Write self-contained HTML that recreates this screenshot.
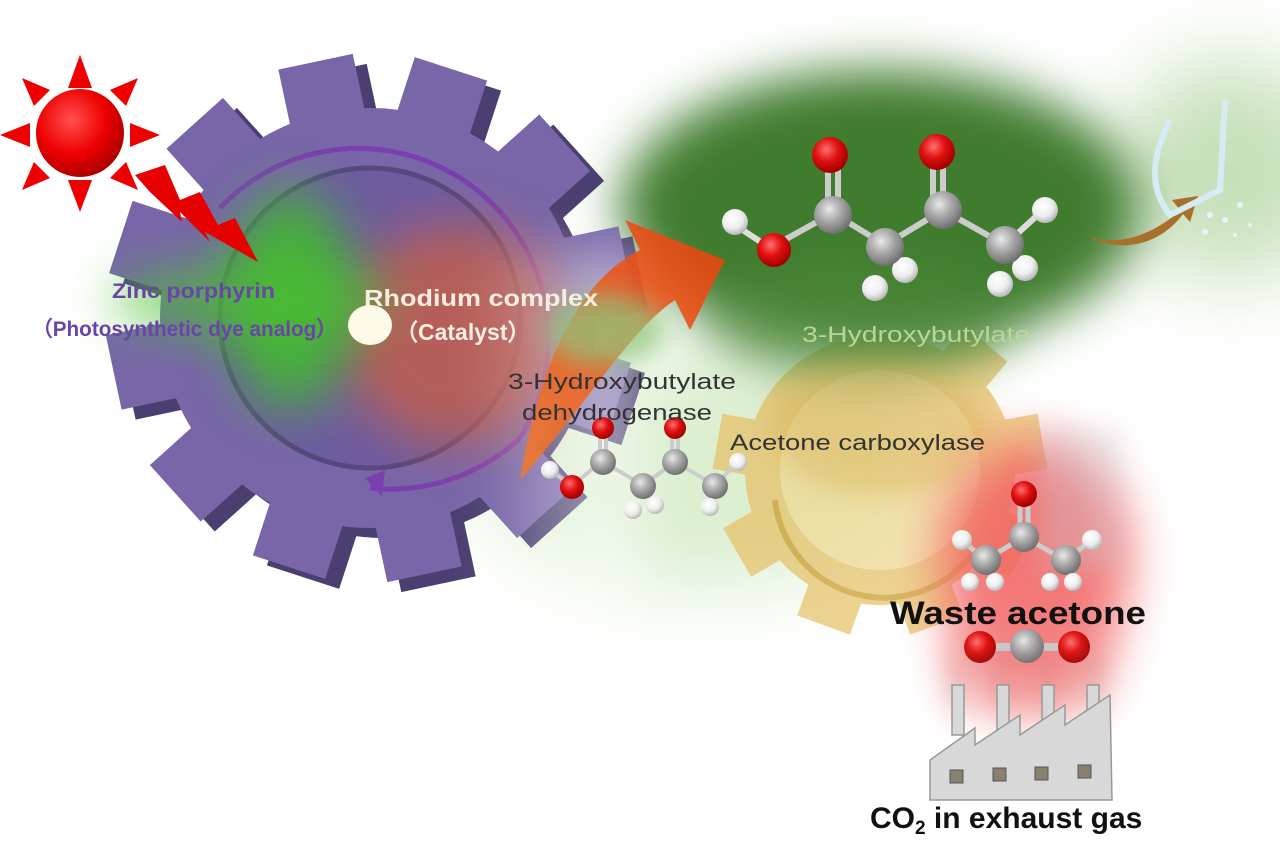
<!DOCTYPE html>
<html><head><meta charset="utf-8"><style>
html,body{margin:0;padding:0;background:#fff;width:1280px;height:853px;overflow:hidden}
svg{display:block}
text{font-family:"Liberation Sans",sans-serif}
</style></head><body>
<svg width="1280" height="853" viewBox="0 0 1280 853" xmlns="http://www.w3.org/2000/svg">
<defs>
<filter id="b40" x="-50%" y="-50%" width="200%" height="200%"><feGaussianBlur stdDeviation="40"/></filter>
<filter id="b25" x="-50%" y="-50%" width="200%" height="200%"><feGaussianBlur stdDeviation="25"/></filter>
<filter id="b12" x="-50%" y="-50%" width="200%" height="200%"><feGaussianBlur stdDeviation="12"/></filter>
<radialGradient id="gO" cx="40%" cy="35%" r="65%"><stop offset="0" stop-color="#ff7070"/><stop offset=".5" stop-color="#e01010"/><stop offset="1" stop-color="#a00000"/></radialGradient>
<radialGradient id="gC" cx="40%" cy="35%" r="65%"><stop offset="0" stop-color="#e8e8e8"/><stop offset=".5" stop-color="#a8a8a8"/><stop offset="1" stop-color="#707070"/></radialGradient>
<radialGradient id="gH" cx="40%" cy="35%" r="65%"><stop offset="0" stop-color="#fff"/><stop offset=".6" stop-color="#eee"/><stop offset="1" stop-color="#b8b8b8"/></radialGradient>
<radialGradient id="sun" cx="40%" cy="35%" r="65%"><stop offset="0" stop-color="#ff5050"/><stop offset=".6" stop-color="#ee0000"/><stop offset="1" stop-color="#b00000"/></radialGradient>
<linearGradient id="orng" x1="0" y1="1" x2="1" y2="0"><stop offset="0" stop-color="#f07a30"/><stop offset="1" stop-color="#e84010"/></linearGradient>
<linearGradient id="fade" x1="0" y1="0" x2="1" y2="0"><stop offset="0" stop-color="#fff" stop-opacity="0"/><stop offset="1" stop-color="#fff" stop-opacity="1"/></linearGradient>
</defs>

<ellipse cx="1230" cy="170" rx="110" ry="110" fill="#b9d9a8" filter="url(#b40)" opacity=".8"/>
<ellipse cx="700" cy="470" rx="220" ry="120" fill="#dcefd0" filter="url(#b40)"/>
<g opacity=".7">
<g transform="translate(880,470)" fill="#e6c064">
<circle r="135"/>
<rect x="-28" y="-165" width="56" height="45" transform="rotate(40)"/>
<rect x="-28" y="-165" width="56" height="45" transform="rotate(80)"/>
<rect x="-28" y="-165" width="56" height="45" transform="rotate(120)"/>
<rect x="-28" y="-165" width="56" height="45" transform="rotate(160)"/>
<rect x="-28" y="-165" width="56" height="45" transform="rotate(200)"/>
<rect x="-28" y="-165" width="56" height="45" transform="rotate(240)"/>
<rect x="-28" y="-165" width="56" height="45" transform="rotate(280)"/>
<circle r="100" fill="#f0d890"/>
<path d="M-105,30 A110,110 0 0 0 95,80" fill="none" stroke="#c89820" stroke-width="6"/>
</g>
</g>
<ellipse cx="880" cy="210" rx="260" ry="140" fill="#3f7b2f" filter="url(#b25)"/>
<ellipse cx="860" cy="320" rx="150" ry="60" fill="#4f8a3a" filter="url(#b25)" opacity=".6"/>
<ellipse cx="880" cy="430" rx="110" ry="65" fill="#d9b055" opacity=".45" filter="url(#b12)"/>

<ellipse cx="1035" cy="560" rx="95" ry="120" fill="#f26060" filter="url(#b25)" opacity=".85"/>
<ellipse cx="1030" cy="660" rx="80" ry="60" fill="#f48080" filter="url(#b25)" opacity=".7"/>
<rect x="1040" y="430" width="80" height="140" fill="#c8c8d0" opacity=".35" filter="url(#b12)"/>

<g transform="translate(370,318)">
<g fill="#4a3f70" transform="translate(14,10)">
<circle r="210"/>
<rect x="-38" y="-262" width="76" height="70" transform="rotate(-12)"/>
<rect x="-38" y="-262" width="76" height="70" transform="rotate(18)"/>
<rect x="-38" y="-262" width="76" height="70" transform="rotate(48)"/>
<rect x="-38" y="-262" width="76" height="70" transform="rotate(78)"/>
<rect x="-38" y="-262" width="76" height="70" transform="rotate(108)"/>
<rect x="-38" y="-262" width="76" height="70" transform="rotate(138)"/>
<rect x="-38" y="-262" width="76" height="70" transform="rotate(168)"/>
<rect x="-38" y="-262" width="76" height="70" transform="rotate(198)"/>
<rect x="-38" y="-262" width="76" height="70" transform="rotate(228)"/>
<rect x="-38" y="-262" width="76" height="70" transform="rotate(258)"/>
<rect x="-38" y="-262" width="76" height="70" transform="rotate(288)"/>
<rect x="-38" y="-262" width="76" height="70" transform="rotate(318)"/>
</g>
<g fill="#7866a8">
<circle r="210"/>
<rect x="-38" y="-262" width="76" height="70" transform="rotate(-12)"/>
<rect x="-38" y="-262" width="76" height="70" transform="rotate(18)"/>
<rect x="-38" y="-262" width="76" height="70" transform="rotate(48)"/>
<rect x="-38" y="-262" width="76" height="70" transform="rotate(78)"/>
<rect x="-38" y="-262" width="76" height="70" transform="rotate(108)"/>
<rect x="-38" y="-262" width="76" height="70" transform="rotate(138)"/>
<rect x="-38" y="-262" width="76" height="70" transform="rotate(168)"/>
<rect x="-38" y="-262" width="76" height="70" transform="rotate(198)"/>
<rect x="-38" y="-262" width="76" height="70" transform="rotate(228)"/>
<rect x="-38" y="-262" width="76" height="70" transform="rotate(258)"/>
<rect x="-38" y="-262" width="76" height="70" transform="rotate(288)"/>
<rect x="-38" y="-262" width="76" height="70" transform="rotate(318)"/>
</g>
<circle r="150" fill="#6e5ca0" stroke="#55487d" stroke-width="5"/>
<path d="M-150,-110 A190,190 0 0 1 150,120" fill="none" stroke="#7a3fb0" stroke-width="5"/>
<path d="M150,120 A190,190 0 0 1 0,170" fill="none" stroke="#7a3fb0" stroke-width="5"/>
<polygon points="-5,160 15,152 12,178" fill="#7a3fb0"/>
</g>
<ellipse cx="455" cy="335" rx="115" ry="110" fill="#c8604a" filter="url(#b25)" opacity=".8"/>
<ellipse cx="290" cy="300" rx="65" ry="110" fill="#3fbe2a" filter="url(#b25)" opacity=".85"/>
<ellipse cx="250" cy="300" rx="140" ry="35" fill="#4cc030" filter="url(#b25)" opacity=".7"/>
<rect x="480" y="250" width="160" height="360" fill="url(#fade)" opacity=".6" filter="url(#b25)"/>
<ellipse cx="370" cy="325" rx="22" ry="20" fill="#fdfbe8"/>

<path d="M520,480 C540,360 580,280 640,250 L625,220 L725,260 L690,330 L675,300 C630,330 590,400 520,480 Z" fill="url(#orng)" opacity=".9"/>
<ellipse cx="605" cy="330" rx="60" ry="35" fill="#8fc47a" opacity=".75" filter="url(#b12)"/>

<path d="M1085,235 C1120,250 1160,230 1180,210 L1172,200 L1198,196 L1190,222 L1183,214 C1160,245 1120,255 1085,235 Z" fill="#a8702a"/>
<path d="M1170,120 C1150,160 1150,190 1170,215 L1220,190 L1225,100" fill="none" stroke="#d6ecf5" stroke-width="6"/>
<g fill="#e6f3f8"><circle cx="1210" cy="215" r="3"/><circle cx="1225" cy="220" r="3"/><circle cx="1240" cy="205" r="3"/><circle cx="1205" cy="232" r="3"/><circle cx="1235" cy="235" r="2"/><circle cx="1250" cy="225" r="2"/></g>

<g fill="#e00">
<polygon points="80,55 68,88 92,88"/>
<polygon points="80,212 68,180 92,180"/>
<polygon points="0,135 30,123 30,147"/>
<polygon points="160,135 130,123 130,147"/>
<polygon points="22,78 50,90 34,106"/>
<polygon points="138,78 110,90 126,106"/>
<polygon points="22,190 50,178 34,162"/>
<polygon points="138,190 110,178 126,162"/>
</g>
<circle cx="80" cy="133" r="44" fill="url(#sun)"/>
<polygon points="135,175 165,165 180,200 200,192 218,225 235,218 258,262 205,232 210,242 180,212 182,222 150,192" fill="#e60000"/>

<g stroke-width="6">
<line x1="833" y1="213" x2="770" y2="248" stroke="#ccc"/><line x1="770" y1="248" x2="735" y2="225" stroke="#ddd"/>
<line x1="828" y1="160" x2="828" y2="210" stroke="#ccc"/><line x1="838" y1="160" x2="838" y2="210" stroke="#ccc"/>
<line x1="833" y1="213" x2="885" y2="245" stroke="#ccc"/><line x1="885" y1="245" x2="943" y2="210" stroke="#ccc"/>
<line x1="933" y1="155" x2="933" y2="205" stroke="#ccc"/><line x1="943" y1="155" x2="943" y2="205" stroke="#ccc"/>
<line x1="943" y1="210" x2="1005" y2="245" stroke="#ccc"/><line x1="1005" y1="245" x2="1043" y2="210" stroke="#ddd"/>
</g>
<circle cx="735" cy="222" r="13" fill="url(#gH)"/>
<circle cx="774" cy="250" r="17" fill="url(#gO)"/>
<circle cx="830" cy="155" r="18" fill="url(#gO)"/>
<circle cx="937" cy="152" r="18" fill="url(#gO)"/>
<circle cx="905" cy="270" r="13" fill="url(#gH)"/>
<circle cx="1025" cy="268" r="13" fill="url(#gH)"/>
<circle cx="833" cy="215" r="19" fill="url(#gC)"/>
<circle cx="885" cy="247" r="19" fill="url(#gC)"/>
<circle cx="943" cy="210" r="19" fill="url(#gC)"/>
<circle cx="1005" cy="245" r="19" fill="url(#gC)"/>
<circle cx="875" cy="288" r="13" fill="url(#gH)"/>
<circle cx="1000" cy="284" r="13" fill="url(#gH)"/>
<circle cx="1045" cy="210" r="13" fill="url(#gH)"/>

<g stroke-width="4" stroke="#ccc">
<line x1="603" y1="460" x2="572" y2="486"/><line x1="572" y1="486" x2="550" y2="470"/>
<line x1="600" y1="430" x2="600" y2="460"/><line x1="606" y1="430" x2="606" y2="460"/>
<line x1="603" y1="462" x2="643" y2="485"/><line x1="643" y1="485" x2="675" y2="462"/>
<line x1="672" y1="430" x2="672" y2="460"/><line x1="678" y1="430" x2="678" y2="460"/>
<line x1="675" y1="462" x2="715" y2="485"/><line x1="715" y1="485" x2="738" y2="462"/>
</g>
<circle cx="550" cy="470" r="9" fill="url(#gH)"/>
<circle cx="572" cy="487" r="12" fill="url(#gO)"/>
<circle cx="603" cy="428" r="11" fill="url(#gO)"/>
<circle cx="675" cy="428" r="11" fill="url(#gO)"/>
<circle cx="603" cy="462" r="13" fill="url(#gC)"/>
<circle cx="643" cy="486" r="13" fill="url(#gC)"/>
<circle cx="675" cy="462" r="13" fill="url(#gC)"/>
<circle cx="715" cy="486" r="13" fill="url(#gC)"/>
<circle cx="633" cy="510" r="9" fill="url(#gH)"/>
<circle cx="655" cy="505" r="9" fill="url(#gH)"/>
<circle cx="710" cy="507" r="9" fill="url(#gH)"/>
<circle cx="738" cy="462" r="9" fill="url(#gH)"/>

<g stroke-width="5" stroke="#ccc">
<line x1="1020" y1="500" x2="1020" y2="535"/><line x1="1028" y1="500" x2="1028" y2="535"/>
<line x1="985" y1="560" x2="1024" y2="537"/><line x1="1024" y1="537" x2="1065" y2="560"/>
<line x1="985" y1="560" x2="962" y2="540"/><line x1="1065" y1="560" x2="1092" y2="540"/>
</g>
<circle cx="1024" cy="494" r="13" fill="url(#gO)"/>
<circle cx="962" cy="540" r="10" fill="url(#gH)"/>
<circle cx="1092" cy="540" r="10" fill="url(#gH)"/>
<circle cx="1024" cy="537" r="15" fill="url(#gC)"/>
<circle cx="986" cy="560" r="15" fill="url(#gC)"/>
<circle cx="1066" cy="560" r="15" fill="url(#gC)"/>
<circle cx="970" cy="582" r="9" fill="url(#gH)"/>
<circle cx="995" cy="582" r="9" fill="url(#gH)"/>
<circle cx="1050" cy="582" r="9" fill="url(#gH)"/>
<circle cx="1073" cy="582" r="9" fill="url(#gH)"/>
<line x1="980" y1="647" x2="1075" y2="647" stroke="#ccc" stroke-width="8"/>
<circle cx="980" cy="647" r="16" fill="url(#gO)"/>
<circle cx="1074" cy="647" r="16" fill="url(#gO)"/>
<circle cx="1027" cy="646" r="17" fill="url(#gC)"/>

<g fill="#d08080" opacity=".35" filter="url(#b12)">
<rect x="948" y="650" width="20" height="60"/><rect x="993" y="650" width="20" height="60"/><rect x="1038" y="650" width="20" height="60"/><rect x="1083" y="650" width="20" height="60"/>
</g>
<g fill="#d8d8d8" stroke="#999" stroke-width="1.5">
<rect x="952" y="685" width="12" height="50"/><rect x="997" y="685" width="12" height="50"/><rect x="1042" y="685" width="12" height="50"/><rect x="1087" y="685" width="12" height="50"/>
<path d="M930,800 L930,760 L975,728 L975,745 L1020,715 L1020,735 L1065,705 L1065,725 L1110,695 L1112,800 Z"/>
</g>
<g fill="#8a8070" stroke="#555" stroke-width="1">
<rect x="950" y="770" width="13" height="13"/><rect x="993" y="768" width="13" height="13"/><rect x="1035" y="767" width="13" height="13"/><rect x="1078" y="765" width="13" height="13"/>
</g>

<text x="112" y="298" font-size="21" fill="#6a44a8" font-weight="bold" textLength="163" lengthAdjust="spacingAndGlyphs">Zinc porphyrin</text>
<text x="32" y="336" font-size="21" fill="#6a44a8" font-weight="bold" textLength="305" lengthAdjust="spacingAndGlyphs">（Photosynthetic dye analog）</text>
<text x="364" y="306" font-size="23" fill="#f8eee0" font-weight="bold" textLength="234" lengthAdjust="spacingAndGlyphs">Rhodium complex</text>
<text x="395" y="340" font-size="23" fill="#f8eee0" font-weight="bold">（Catalyst）</text>
<text x="508" y="389" font-size="22" fill="#333" textLength="228" lengthAdjust="spacingAndGlyphs">3-Hydroxybutylate</text>
<text x="522" y="420" font-size="22" fill="#333" textLength="190" lengthAdjust="spacingAndGlyphs">dehydrogenase</text>
<text x="802" y="342" font-size="22" fill="#b6d69a" textLength="228" lengthAdjust="spacingAndGlyphs">3-Hydroxybutylate</text>
<text x="730" y="450" font-size="22" fill="#333" textLength="255" lengthAdjust="spacingAndGlyphs">Acetone carboxylase</text>
<text x="890" y="624" font-size="32" fill="#111" font-weight="bold" textLength="256" lengthAdjust="spacingAndGlyphs">Waste acetone</text>
<text x="870" y="828" font-size="30" fill="#111" font-weight="bold">CO<tspan font-size="19" dy="6">2</tspan><tspan dy="-6"> in exhaust gas</tspan></text>
</svg>
</body></html>
